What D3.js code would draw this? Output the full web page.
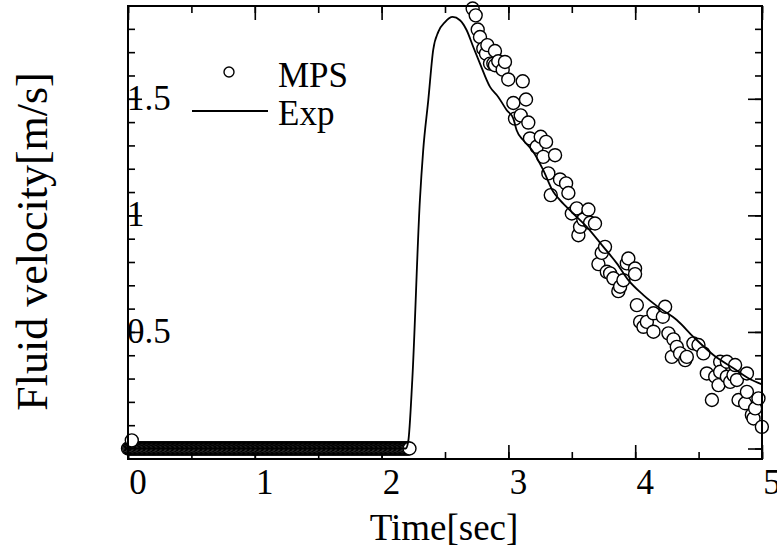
<!DOCTYPE html>
<html>
<head>
<meta charset="utf-8">
<script src="https://cdn.jsdelivr.net/npm/d3@7"></script>
<style>
  body { margin: 0; background: #fff; }
  text { font-family: "Liberation Serif", "Times New Roman", serif; fill: #000; }
</style>
</head>
<body>
<div id="myChart"></div>
<script>
// MPS result: flat part before the wave arrives (sampled every 0.01 s)
let mpsFlatTime = [
  0.00, 0.01, 0.02, 0.03, 0.04, 0.05, 0.06, 0.07, 0.08, 0.09,
  0.10, 0.11, 0.12, 0.13, 0.14, 0.15, 0.16, 0.17, 0.18, 0.19,
  0.20, 0.21, 0.22, 0.23, 0.24, 0.25, 0.26, 0.27, 0.28, 0.29,
  0.30, 0.31, 0.32, 0.33, 0.34, 0.35, 0.36, 0.37, 0.38, 0.39,
  0.40, 0.41, 0.42, 0.43, 0.44, 0.45, 0.46, 0.47, 0.48, 0.49,
  0.50, 0.51, 0.52, 0.53, 0.54, 0.55, 0.56, 0.57, 0.58, 0.59,
  0.60, 0.61, 0.62, 0.63, 0.64, 0.65, 0.66, 0.67, 0.68, 0.69,
  0.70, 0.71, 0.72, 0.73, 0.74, 0.75, 0.76, 0.77, 0.78, 0.79,
  0.80, 0.81, 0.82, 0.83, 0.84, 0.85, 0.86, 0.87, 0.88, 0.89,
  0.90, 0.91, 0.92, 0.93, 0.94, 0.95, 0.96, 0.97, 0.98, 0.99,
  1.00, 1.01, 1.02, 1.03, 1.04, 1.05, 1.06, 1.07, 1.08, 1.09,
  1.10, 1.11, 1.12, 1.13, 1.14, 1.15, 1.16, 1.17, 1.18, 1.19,
  1.20, 1.21, 1.22, 1.23, 1.24, 1.25, 1.26, 1.27, 1.28, 1.29,
  1.30, 1.31, 1.32, 1.33, 1.34, 1.35, 1.36, 1.37, 1.38, 1.39,
  1.40, 1.41, 1.42, 1.43, 1.44, 1.45, 1.46, 1.47, 1.48, 1.49,
  1.50, 1.51, 1.52, 1.53, 1.54, 1.55, 1.56, 1.57, 1.58, 1.59,
  1.60, 1.61, 1.62, 1.63, 1.64, 1.65, 1.66, 1.67, 1.68, 1.69,
  1.70, 1.71, 1.72, 1.73, 1.74, 1.75, 1.76, 1.77, 1.78, 1.79,
  1.80, 1.81, 1.82, 1.83, 1.84, 1.85, 1.86, 1.87, 1.88, 1.89,
  1.90, 1.91, 1.92, 1.93, 1.94, 1.95, 1.96, 1.97, 1.98, 1.99,
  2.00, 2.01, 2.02, 2.03, 2.04, 2.05, 2.06, 2.07, 2.08, 2.09,
  2.10, 2.11, 2.12, 2.13, 2.14, 2.15, 2.16, 2.17, 2.18, 2.19,
  2.20, 2.21, 2.22];
let mpsFlatVel = [
  0, 0, 0, 0, 0, 0, 0, 0, 0, 0,
  0, 0, 0, 0, 0, 0, 0, 0, 0, 0,
  0, 0, 0, 0, 0, 0, 0, 0, 0, 0,
  0, 0, 0, 0, 0, 0, 0, 0, 0, 0,
  0, 0, 0, 0, 0, 0, 0, 0, 0, 0,
  0, 0, 0, 0, 0, 0, 0, 0, 0, 0,
  0, 0, 0, 0, 0, 0, 0, 0, 0, 0,
  0, 0, 0, 0, 0, 0, 0, 0, 0, 0,
  0, 0, 0, 0, 0, 0, 0, 0, 0, 0,
  0, 0, 0, 0, 0, 0, 0, 0, 0, 0,
  0, 0, 0, 0, 0, 0, 0, 0, 0, 0,
  0, 0, 0, 0, 0, 0, 0, 0, 0, 0,
  0, 0, 0, 0, 0, 0, 0, 0, 0, 0,
  0, 0, 0, 0, 0, 0, 0, 0, 0, 0,
  0, 0, 0, 0, 0, 0, 0, 0, 0, 0,
  0, 0, 0, 0, 0, 0, 0, 0, 0, 0,
  0, 0, 0, 0, 0, 0, 0, 0, 0, 0,
  0, 0, 0, 0, 0, 0, 0, 0, 0, 0,
  0, 0, 0, 0, 0, 0, 0, 0, 0, 0,
  0, 0, 0, 0, 0, 0, 0, 0, 0, 0,
  0, 0, 0, 0, 0, 0, 0, 0, 0, 0,
  0, 0, 0, 0, 0, 0, 0, 0, 0, 0,
  0, 0, 0];

// MPS result: after the wave arrives
let mpsTime = [0.03, 2.718, 2.742, 2.758, 2.776, 2.802, 2.823, 2.834, 2.855, 2.881, 2.894,
  2.894, 2.920, 2.955, 2.973, 2.999, 3.039, 3.052, 3.097, 3.113, 3.139,
  3.157, 3.170, 3.223, 3.255, 3.275, 3.297, 3.315, 3.334, 3.368, 3.407,
  3.455, 3.473, 3.500, 3.539, 3.552, 3.565, 3.591, 3.631, 3.644, 3.683,
  3.710, 3.736, 3.762, 3.776, 3.802, 3.828, 3.867, 3.881, 3.907, 3.934,
  3.946, 3.999, 3.999, 4.013, 4.039, 4.065, 4.092, 4.144, 4.144, 4.218,
  4.236, 4.262, 4.289, 4.302, 4.328, 4.354, 4.394, 4.407, 4.459, 4.499,
  4.538, 4.565, 4.605, 4.631, 4.657, 4.670, 4.670, 4.723, 4.723, 4.749,
  4.775, 4.788, 4.802, 4.815, 4.867, 4.881, 4.881, 4.920, 4.933, 4.946,
  4.972, 4.999];
let mpsVel = [0.035, 1.887, 1.858, 1.797, 1.765, 1.715, 1.694, 1.730, 1.651, 1.651, 1.705,
  1.644, 1.661, 1.625, 1.658, 1.583, 1.482, 1.415, 1.429, 1.575, 1.497,
  1.398, 1.330, 1.294, 1.337, 1.251, 1.315, 1.180, 1.087, 1.258, 1.154,
  1.137, 1.096, 1.008, 1.030, 0.915, 0.951, 0.982, 1.025, 0.968, 0.965,
  0.791, 0.839, 0.865, 0.758, 0.751, 0.730, 0.675, 0.694, 0.722, 0.794,
  0.815, 0.772, 0.748, 0.615, 0.543, 0.522, 0.543, 0.580, 0.501, 0.565,
  0.608, 0.494, 0.393, 0.468, 0.436, 0.408, 0.379, 0.393, 0.451, 0.444,
  0.408, 0.322, 0.208, 0.308, 0.272, 0.372, 0.329, 0.372, 0.308, 0.286,
  0.315, 0.358, 0.294, 0.208, 0.194, 0.322, 0.243, 0.144, 0.129, 0.172,
  0.215, 0.093];

// experiment
let expTime = [0.00, 2.19, 2.21, 2.242, 2.302, 2.328, 2.368, 2.407, 2.447, 2.500,
  2.560, 2.618, 2.671, 2.723, 2.776, 2.855, 2.920, 2.987, 3.039, 3.065,
  3.118, 3.197, 3.275, 3.354, 3.407, 3.512, 3.618, 3.749, 3.855, 3.946,
  4.065, 4.196, 4.328, 4.459, 4.617, 4.775, 4.907, 5.00];
let expVel = [0.00, 0.00, 0.03, 0.294, 1.065, 1.279, 1.493, 1.710, 1.787, 1.829,
  1.851, 1.837, 1.794, 1.722, 1.651, 1.551, 1.508, 1.451, 1.415, 1.365,
  1.322, 1.272, 1.194, 1.101, 1.065, 1.008, 0.951, 0.865, 0.794, 0.722,
  0.658, 0.601, 0.551, 0.479, 0.401, 0.344, 0.297, 0.275];

let xTicks = [0, 1, 2, 3, 4, 5];
let xTickLabels = ["0", "1", "2", "3", "4", "5"];
let yTicks = [0, 0.5, 1, 1.5];
let yTickLabels = ["0", "0.5", "1", "1.5"];

let margin = { top: 6, right: 15, bottom: 89, left: 128 },
    width = 777 - margin.left - margin.right,
    height = 548 - margin.top - margin.bottom;

let svg = d3.select("#myChart").append("svg")
  .attr("width", 777)
  .attr("height", 548)
  .append("g")
  .attr("transform", "translate(" + margin.left + "," + margin.top + ")");

let x = d3.scaleLinear().domain([0, 5]).range([0, width]);
let y = d3.scaleLinear().domain([-0.045, 1.898]).range([height, 0]);

let xMinor = d3.range(0, 5.01, 0.5);
let yMinor = d3.range(0, 1.85, 0.1);

// ticks pointing inward on all four sides
function tickAxis(axis, scale, vals, len) {
  return axis(scale).tickValues(vals).tickSize(len).tickFormat("");
}
let tickStyle = g => {
  g.select(".domain").remove();
  g.selectAll("line").attr("stroke", "#000").attr("stroke-width", 1.6);
};
svg.append("g").attr("transform", "translate(0," + height + ")")
  .call(tickAxis(d3.axisTop, x, xMinor, 7)).call(tickStyle);
svg.append("g").attr("transform", "translate(0," + height + ")")
  .call(tickAxis(d3.axisTop, x, xTicks, 14)).call(tickStyle);
svg.append("g").call(tickAxis(d3.axisBottom, x, xMinor, 7)).call(tickStyle);
svg.append("g").call(tickAxis(d3.axisBottom, x, xTicks, 14)).call(tickStyle);
svg.append("g").call(tickAxis(d3.axisRight, y, yMinor, 7)).call(tickStyle);
svg.append("g").call(tickAxis(d3.axisRight, y, yTicks, 14)).call(tickStyle);
svg.append("g").attr("transform", "translate(" + width + ",0)")
  .call(tickAxis(d3.axisLeft, y, yMinor, 7)).call(tickStyle);
svg.append("g").attr("transform", "translate(" + width + ",0)")
  .call(tickAxis(d3.axisLeft, y, yTicks, 14)).call(tickStyle);

// MPS circles
let flat = mpsFlatTime.map((t, i) => ({ t: t, v: mpsFlatVel[i] }));
let mps = mpsTime.map((t, i) => ({ t: t, v: mpsVel[i] }));
svg.selectAll(".mps")
  .data(flat.concat(mps))
  .enter()
  .append("circle")
  .attr("class", "mps")
  .attr("cx", d => x(d.t))
  .attr("cy", d => y(d.v))
  .attr("r", 6.5)
  .attr("fill", "#fff")
  .attr("stroke", "#000")
  .attr("stroke-width", 1.4);

// experiment line
let line = d3.line().x(d => x(d.t)).y(d => y(d.v)).curve(d3.curveMonotoneX);
svg.append("path")
  .datum(expTime.map((t, i) => ({ t: t, v: expVel[i] })))
  .attr("fill", "none")
  .attr("stroke", "#000")
  .attr("stroke-width", 1.8)
  .attr("d", line);

// frame
svg.append("rect")
  .attr("width", width).attr("height", height)
  .attr("fill", "none").attr("stroke", "#000").attr("stroke-width", 2);

// tick labels (shifted right like in the original)
svg.selectAll(".xlab")
  .data(xTicks)
  .enter()
  .append("text")
  .attr("x", d => x(d) + 10)
  .attr("y", height + 35)
  .attr("text-anchor", "middle")
  .style("font-size", "35px")
  .text((d, i) => xTickLabels[i]);

svg.selectAll(".ylab")
  .data(yTicks.slice(1))
  .enter()
  .append("text")
  .attr("x", -1)
  .attr("y", d => y(d) + 11)
  .style("font-size", "35px")
  .text((d, i) => yTickLabels[i + 1]);

// axis titles
svg.append("text")
  .attr("x", width / 2 - 1)
  .attr("y", height + 81)
  .attr("text-anchor", "middle")
  .style("font-size", "37px")
  .text("Time[sec]");

svg.append("text")
  .attr("transform", "translate(" + (-81) + "," + (height / 2 + 9) + ") rotate(-90)")
  .attr("text-anchor", "middle")
  .style("font-size", "44px")
  .text("Fluid velocity[m/s]");

// legend
let legend = svg.append("g").attr("transform", "translate(64,66)");
legend.append("circle")
  .attr("cx", 37).attr("cy", 0).attr("r", 5)
  .attr("fill", "#fff").attr("stroke", "#000").attr("stroke-width", 1.4);
legend.append("text")
  .attr("x", 86).attr("y", 15)
  .style("font-size", "35px")
  .text("MPS");
legend.append("line")
  .attr("x1", 0).attr("x2", 76).attr("y1", 39).attr("y2", 39)
  .attr("stroke", "#000").attr("stroke-width", 1.8);
legend.append("text")
  .attr("x", 86).attr("y", 53)
  .style("font-size", "35px")
  .text("Exp");
</script>
</body>
</html>
